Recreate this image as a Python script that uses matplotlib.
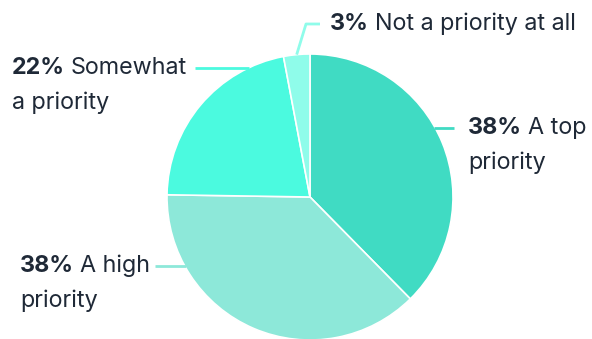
import numpy as np
import matplotlib
matplotlib.use("Agg")
import matplotlib.pyplot as plt

plt.rcParams['font.family'] = ['Inter', 'DejaVu Sans']

# data
labels = ["A top priority", "A high priority", "Somewhat a priority", "Not a priority at all"]
values = [38, 38, 22, 3]
colors = ["#40dbc3", "#8de8d9", "#4bfadf", "#8ffcea"]

W, H = 592, 339
fig = plt.figure(figsize=(W / 100, H / 100), dpi=100)
ax = fig.add_axes([0, 0, 1, 1])

cx, cy, R = 310, H - 197, 143
wedges, _ = ax.pie(values, colors=colors, startangle=90, counterclock=False,
                   radius=R, center=(cx, cy), frame=True,
                   wedgeprops=dict(edgecolor='white', linewidth=1.2))
ax.set_xlim(0, W)
ax.set_ylim(0, H)
ax.axis('off')

TXT = "#1f2937"
FS = 16.8
renderer = fig.canvas.get_renderer()


def label(x, y, pct, first, second):
    t = ax.text(x, y, f"{pct}%", fontsize=FS, fontweight='bold', color=TXT,
                va='center', ha='left')
    bb = t.get_window_extent(renderer)
    ax.text(bb.x1 + 6, y, first, fontsize=FS, color=TXT, va='center', ha='left')
    if second:
        ax.text(x, y - 35, second, fontsize=FS, color=TXT, va='center', ha='left')


def edge_x(y, side):
    dy = y - cy
    return cx + side * np.sqrt(R ** 2 - dy ** 2)


LW = 2.0
# A top priority (right)
y0 = H - 128
ax.plot([edge_x(y0, 1) - 1, 454], [y0, y0], color=colors[0], lw=LW, solid_capstyle='butt')
label(468, y0, values[0], "A top", "priority")

# A high priority (left bottom)
y1 = H - 266
ax.plot([155, edge_x(y1, -1) + 1], [y1, y1], color=colors[1], lw=LW, solid_capstyle='butt')
label(20, y1, values[1], "A high", "priority")

# Somewhat a priority (left top)
y2 = H - 68
ax.plot([195, edge_x(y2, -1) + 1], [y2, y2], color=colors[2], lw=LW, solid_capstyle='butt')
label(12, y2, values[2], "Somewhat", "a priority")

# Not a priority at all (top)
w = wedges[3]
mid = np.deg2rad((w.theta1 + w.theta2) / 2)
px, py = cx + R * np.cos(mid), cy + R * np.sin(mid)
y3 = H - 24
ax.plot([px, 306, 320], [py, y3, y3], color=colors[3], lw=LW, solid_capstyle='butt')
label(330, y3, values[3], "Not a priority at all", None)

fig.savefig("out.png", dpi=100, facecolor='white')
